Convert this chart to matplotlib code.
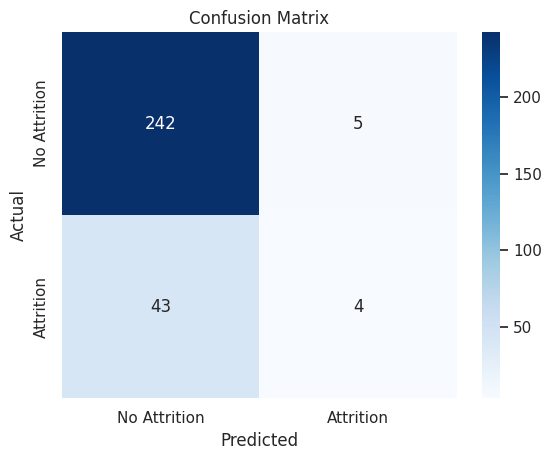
import matplotlib
matplotlib.use("Agg")
import matplotlib.pyplot as plt
import seaborn as sns
import numpy as np

labels = ["No Attrition", "Attrition"]
cm = np.array([[242, 5],
               [43, 4]])

sns.set_theme()
fig, ax = plt.subplots(figsize=(5.53, 4.63), dpi=100)
sns.heatmap(cm, annot=True, fmt="d", cmap="Blues",
            xticklabels=labels, yticklabels=labels, ax=ax)
ax.set_xlabel("Predicted")
ax.set_ylabel("Actual")
ax.set_title("Confusion Matrix")
fig.subplots_adjust(left=0.112, right=1.005, bottom=0.14, top=0.931)
fig.savefig("out.png")
